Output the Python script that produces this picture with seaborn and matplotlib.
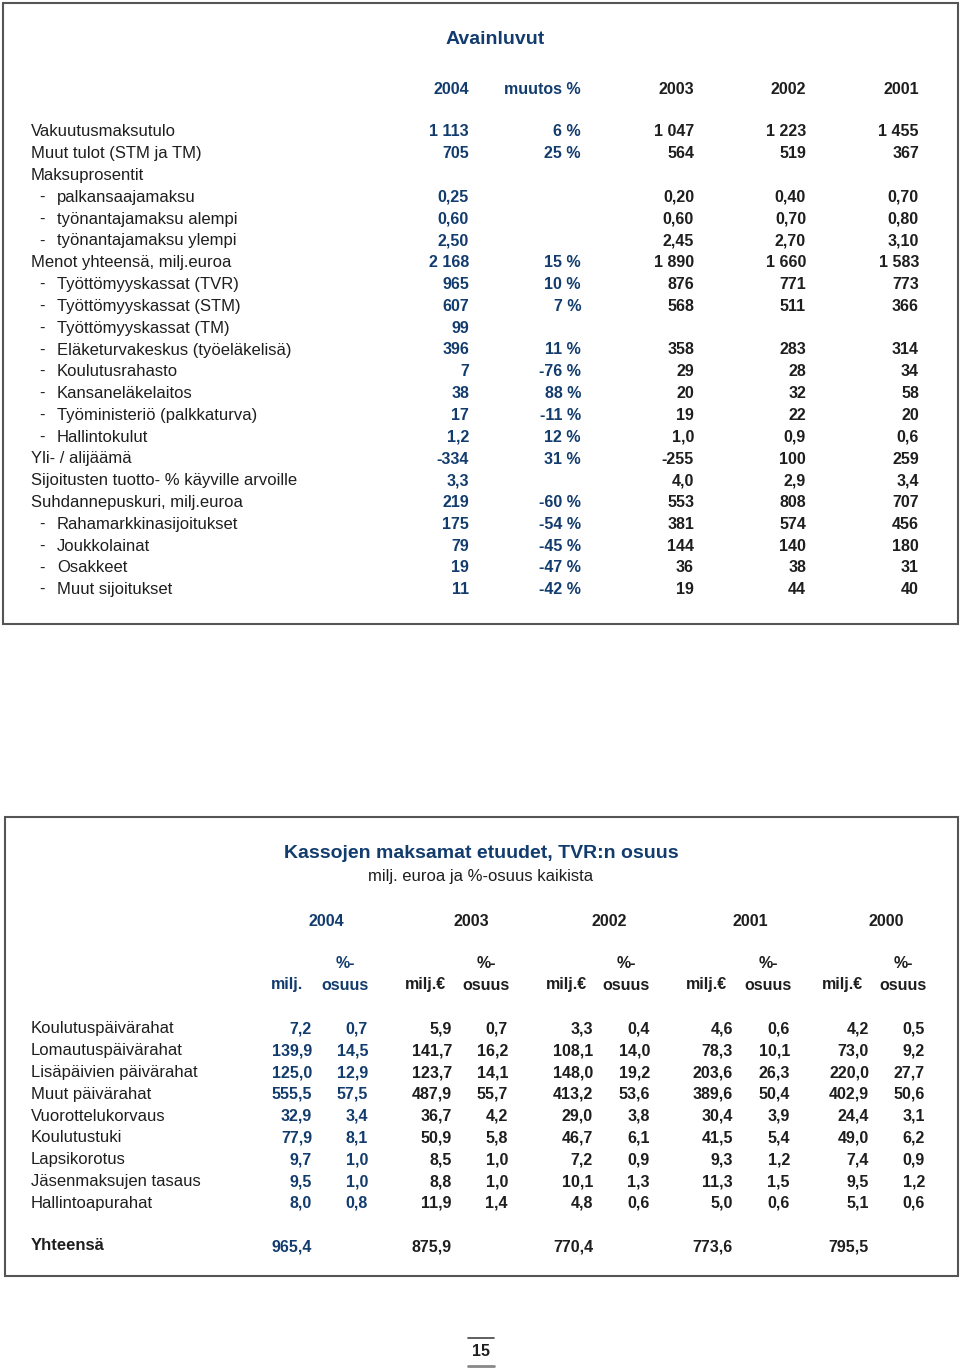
import matplotlib.pyplot as plt
import seaborn as sns
from matplotlib.patches import Rectangle

# --- Avainluvut (key figures) ---
key_labels = ["Vakuutusmaksutulo", "Muut tulot (STM ja TM)", "Maksuprosentit",
              "palkansaajamaksu", "työnantajamaksu alempi", "työnantajamaksu ylempi",
              "Menot yhteensä, milj.euroa", "Työttömyyskassat (TVR)", "Työttömyyskassat (STM)",
              "Työttömyyskassat (TM)", "Eläketurvakeskus (työeläkelisä)", "Koulutusrahasto",
              "Kansaneläkelaitos", "Työministeriö (palkkaturva)", "Hallintokulut",
              "Yli- / alijäämä", "Sijoitusten tuotto- % käyville arvoille",
              "Suhdannepuskuri, milj.euroa", "Rahamarkkinasijoitukset", "Joukkolainat",
              "Osakkeet", "Muut sijoitukset"]
key_indent = [0, 0, 0, 1, 1, 1, 0, 1, 1, 1, 1, 1, 1, 1, 1, 0, 0, 0, 1, 1, 1, 1]
key_cols = ["2004", "muutos %", "2003", "2002", "2001"]
v2004 = ["1 113", "705", "", "0,25", "0,60", "2,50", "2 168", "965", "607", "99", "396",
         "7", "38", "17", "1,2", "-334", "3,3", "219", "175", "79", "19", "11"]
vchg = ["6 %", "25 %", "", "", "", "", "15 %", "10 %", "7 %", "", "11 %", "-76 %", "88 %",
        "-11 %", "12 %", "31 %", "", "-60 %", "-54 %", "-45 %", "-47 %", "-42 %"]
v2003 = ["1 047", "564", "", "0,20", "0,60", "2,45", "1 890", "876", "568", "", "358",
         "29", "20", "19", "1,0", "-255", "4,0", "553", "381", "144", "36", "19"]
v2002 = ["1 223", "519", "", "0,40", "0,70", "2,70", "1 660", "771", "511", "", "283",
         "28", "32", "22", "0,9", "100", "2,9", "808", "574", "140", "38", "44"]
v2001 = ["1 455", "367", "", "0,70", "0,80", "3,10", "1 583", "773", "366", "", "314",
         "34", "58", "20", "0,6", "259", "3,4", "707", "456", "180", "31", "40"]

# --- Kassojen maksamat etuudet ---
ben_labels = ["Koulutuspäivärahat", "Lomautuspäivärahat", "Lisäpäivien päivärahat",
              "Muut päivärahat", "Vuorottelukorvaus", "Koulutustuki", "Lapsikorotus",
              "Jäsenmaksujen tasaus", "Hallintoapurahat"]
ben_years = ["2004", "2003", "2002", "2001", "2000"]
ben_milj = [
    ["7,2", "139,9", "125,0", "555,5", "32,9", "77,9", "9,7", "9,5", "8,0"],
    ["5,9", "141,7", "123,7", "487,9", "36,7", "50,9", "8,5", "8,8", "11,9"],
    ["3,3", "108,1", "148,0", "413,2", "29,0", "46,7", "7,2", "10,1", "4,8"],
    ["4,6", "78,3", "203,6", "389,6", "30,4", "41,5", "9,3", "11,3", "5,0"],
    ["4,2", "73,0", "220,0", "402,9", "24,4", "49,0", "7,4", "9,5", "5,1"],
]
ben_pct = [
    ["0,7", "14,5", "12,9", "57,5", "3,4", "8,1", "1,0", "1,0", "0,8"],
    ["0,7", "16,2", "14,1", "55,7", "4,2", "5,8", "1,0", "1,0", "1,4"],
    ["0,4", "14,0", "19,2", "53,6", "3,8", "6,1", "0,9", "1,3", "0,6"],
    ["0,6", "10,1", "26,3", "50,4", "3,9", "5,4", "1,2", "1,5", "0,6"],
    ["0,5", "9,2", "27,7", "50,6", "3,1", "6,2", "0,9", "1,2", "0,6"],
]
ben_total = ["965,4", "875,9", "770,4", "773,6", "795,5"]

BLUE = "#123c6e"
DARK = "#1e1e1e"

sns.set_theme(style="white")
plt.rcParams["font.family"] = ["Liberation Sans", "DejaVu Sans"]

fig = plt.figure(figsize=(9.6, 13.68), dpi=100)
ax = fig.add_axes([0, 0, 1, 1])
ax.set_xlim(0, 960)
ax.set_ylim(1368, 0)
ax.axis("off")

LBL = 12
NUM = 11.5
TTL = 14

# ---------- top table ----------
ax.add_patch(Rectangle((3, 3), 955, 621, fill=False, ec="#555555", lw=1.5))
ax.text(495, 39, "Avainluvut", ha="center", va="center", fontsize=TTL,
        fontweight="bold", color=BLUE)
col_x = [469, 581, 694, 806, 919]
for i, (c, x) in enumerate(zip(key_cols, col_x)):
    ax.text(x, 89, c, ha="right", va="center", fontsize=NUM, fontweight="bold",
            color=BLUE if i < 2 else DARK)

y0, dy = 132, 21.8
cols = [v2004, vchg, v2003, v2002, v2001]
for r, lab in enumerate(key_labels):
    y = y0 + r * dy
    if key_indent[r]:
        ax.text(39, y, "-", ha="left", va="center", fontsize=LBL, color=DARK)
        ax.text(57, y, lab, ha="left", va="center", fontsize=LBL, color=DARK)
    else:
        ax.text(31, y, lab, ha="left", va="center", fontsize=LBL, color=DARK)
    for i, (vals, x) in enumerate(zip(cols, col_x)):
        ax.text(x, y, vals[r], ha="right", va="center", fontsize=NUM,
                fontweight="bold", color=BLUE if i < 2 else DARK)

# ---------- bottom table ----------
ax.add_patch(Rectangle((5, 817), 953, 459, fill=False, ec="#555555", lw=1.5))
ax.text(481, 853, "Kassojen maksamat etuudet, TVR:n osuus", ha="center", va="center",
        fontsize=TTL, fontweight="bold", color=BLUE)
ax.text(481, 876, "milj. euroa ja %-osuus kaikista", ha="center", va="center",
        fontsize=LBL, color=DARK)

year_cx = [326, 471, 609, 750, 886]
milj_rx = [312, 452, 593, 733, 869]
pct_rx = [368, 508, 650, 790, 925]
pct_cx = [345, 486, 626, 768, 903]
for i, yr in enumerate(ben_years):
    col = BLUE if i == 0 else DARK
    ax.text(year_cx[i], 921, yr, ha="center", va="center", fontsize=NUM,
            fontweight="bold", color=col)
    ax.text(pct_cx[i], 963, "%-", ha="center", va="center", fontsize=NUM,
            fontweight="bold", color=col)
    ax.text(pct_cx[i], 985, "osuus", ha="center", va="center", fontsize=NUM,
            fontweight="bold", color=col)
    ax.text(milj_rx[i] - (9 if i == 0 else 6), 985, "milj." if i == 0 else "milj.€",
            ha="right", va="center", fontsize=NUM, fontweight="bold", color=col)

by0 = 1029
for r, lab in enumerate(ben_labels):
    y = by0 + r * dy
    ax.text(31, y, lab, ha="left", va="center", fontsize=LBL, color=DARK)
    for i in range(len(ben_years)):
        col = BLUE if i == 0 else DARK
        ax.text(milj_rx[i], y, ben_milj[i][r], ha="right", va="center",
                fontsize=NUM, fontweight="bold", color=col)
        ax.text(pct_rx[i], y, ben_pct[i][r], ha="right", va="center",
                fontsize=NUM, fontweight="bold", color=col)

ax.text(31, 1246, "Yhteensä", ha="left", va="center", fontsize=LBL,
        fontweight="bold", color=DARK)
for i, t in enumerate(ben_total):
    ax.text(milj_rx[i], 1247, t, ha="right", va="center", fontsize=NUM,
            fontweight="bold", color=BLUE if i == 0 else DARK)

# page number
ax.plot([468, 494], [1338, 1338], color="#444444", lw=1.2)
ax.plot([468, 494], [1366, 1366], color="#888888", lw=2)
ax.text(481, 1352, "15", ha="center", va="center", fontsize=NUM,
        fontweight="bold", color=DARK)

fig.savefig("out.png", dpi=100)
